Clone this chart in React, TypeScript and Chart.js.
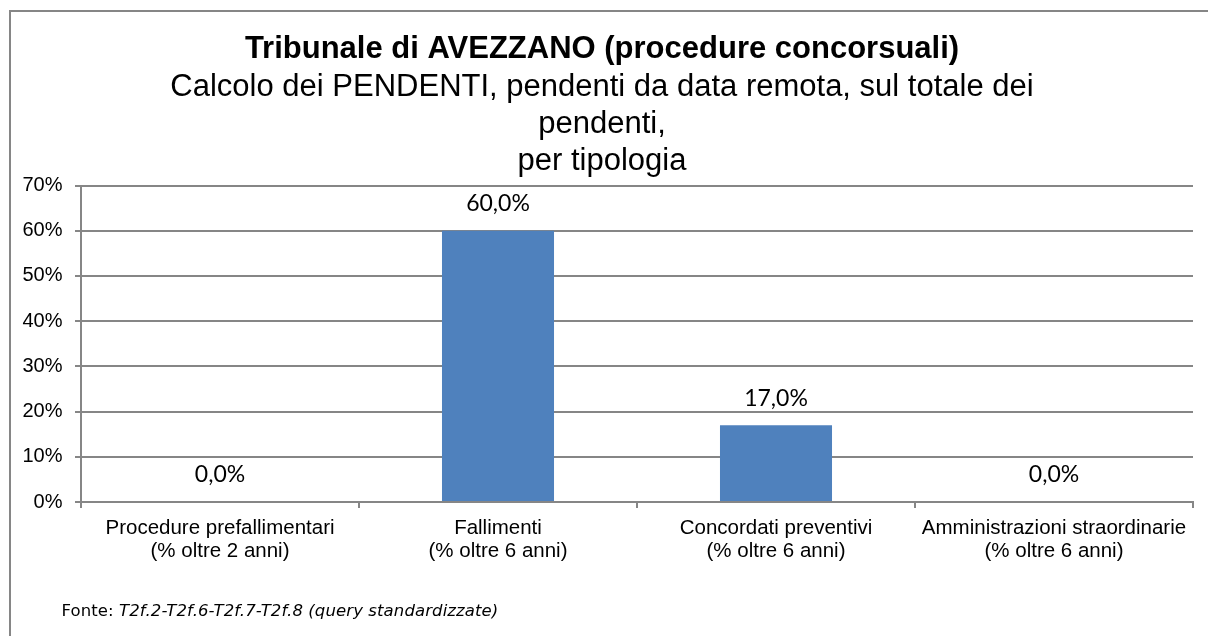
import React, { useEffect, useRef } from 'react';
import { Chart, registerables } from 'chart.js';

Chart.register(...registerables);

// ---- data ----
const categories: string[][] = [
  ['Procedure prefallimentari', '(% oltre 2 anni)'],
  ['Fallimenti', '(% oltre 6 anni)'],
  ['Concordati preventivi', '(% oltre 6 anni)'],
  ['Amministrazioni straordinarie', '(% oltre 6 anni)'],
];
const values: number[] = [0, 60, 17, 0];
const yMin = 0;
const yMax = 70;
const yStep = 10;
const titleText = 'Tribunale di AVEZZANO (procedure concorsuali)';
const subtitleLines: string[] = [
  'Calcolo dei PENDENTI, pendenti da data remota, sul totale dei',
  'pendenti,',
  'per tipologia',
];
const sourceLabel = 'Fonte: ';
const sourceText = 'T2f.2-T2f.6-T2f.7-T2f.8 (query standardizzate)';

// ---- styles ----
const BAR_COLOR = '#4F81BD';
const GRID_COLOR = '#868686';
const SANS = "'Liberation Sans', Arial, sans-serif";

const dataLabelPlugin = {
  id: 'dataLabels',
  afterDatasetsDraw(chart: any) {
    const ctx = chart.ctx;
    const meta = chart.getDatasetMeta(0);
    const data = chart.data.datasets[0].data as number[];
    ctx.save();
    ctx.font = "23px Lato, 'Open Sans', sans-serif";
    ctx.fillStyle = '#000';
    ctx.textAlign = 'center';
    ctx.textBaseline = 'middle';
    meta.data.forEach((el: any, i: number) => {
      const label = data[i].toFixed(1).replace('.', ',') + '%';
      ctx.fillText(label, el.x, el.y - 27);
    });
    ctx.restore();
  },
};

const sourcePlugin = {
  id: 'sourceNote',
  afterDraw(chart: any) {
    const ctx = chart.ctx;
    ctx.save();
    ctx.fillStyle = '#000';
    ctx.textAlign = 'left';
    ctx.textBaseline = 'alphabetic';
    try {
      (ctx as any).letterSpacing = '0.1px';
    } catch (e) {}
    const x = 50.5;
    const y = chart.height - 20;
    ctx.font = "16.5px 'DejaVu Sans', Verdana, sans-serif";
    ctx.fillText(sourceLabel, x, y);
    const w = ctx.measureText(sourceLabel).width;
    ctx.font = "italic 16.5px 'DejaVu Sans', Verdana, sans-serif";
    ctx.fillText(sourceText, x + w, y);
    ctx.restore();
  },
};

export default function App() {
  const canvasRef = useRef<HTMLCanvasElement | null>(null);

  useEffect(() => {
    if (!canvasRef.current) return;
    Chart.defaults.font.family = SANS;
    const chart = new Chart(canvasRef.current, {
      type: 'bar',
      data: {
        labels: categories,
        datasets: [
          {
            data: values,
            backgroundColor: BAR_COLOR,
            borderWidth: 0,
            barPercentage: 0.403,
            categoryPercentage: 1,
          },
        ],
      },
      options: {
        responsive: false,
        animation: false,
        layout: { padding: { top: 0, left: 0, right: 15, bottom: 0 } },
        plugins: {
          legend: { display: false },
          tooltip: { enabled: false },
          title: {
            display: true,
            text: titleText,
            color: '#000',
            font: { family: SANS, size: 31, weight: 'bold', lineHeight: 1.2 },
            padding: { top: 18.7, bottom: 0 },
          },
          subtitle: {
            display: true,
            text: subtitleLines,
            color: '#000',
            font: { family: SANS, size: 31, weight: 'normal', lineHeight: 1.2 },
            padding: { top: 0.5, bottom: 5.5 },
          },
        },
        scales: {
          x: {
            grid: {
              drawOnChartArea: false,
              drawTicks: true,
              tickLength: 6,
              color: GRID_COLOR,
              lineWidth: 2,
            },
            border: { color: GRID_COLOR, width: 2 },
            ticks: {
              color: '#000',
              padding: 9,
              maxRotation: 0,
              autoSkip: false,
              font: { family: SANS, size: 20.5, lineHeight: 23 / 20.5 },
            },
            afterFit(scale: any) {
              scale.height = 134;
            },
          },
          y: {
            min: yMin,
            max: yMax,
            grid: {
              color: GRID_COLOR,
              lineWidth: 2,
              tickLength: 6,
              drawTicks: true,
            },
            border: { color: GRID_COLOR, width: 2 },
            ticks: {
              stepSize: yStep,
              color: '#000',
              padding: 12.5,
              font: { family: SANS, size: 20 },
              callback: (v: any) => `${v}%`,
            },
            afterFit(scale: any) {
              scale.width = 70;
            },
          },
        },
      },
      plugins: [dataLabelPlugin, sourcePlugin],
    });
    return () => chart.destroy();
  }, []);

  return (
    <div
      style={{
        position: 'absolute',
        left: 9,
        top: 10,
        width: 1199,
        height: 626,
        boxSizing: 'border-box',
        borderTop: `2px solid ${GRID_COLOR}`,
        borderLeft: `2px solid ${GRID_COLOR}`,
        background: '#fff',
        overflow: 'hidden',
      }}
    >
      <canvas ref={canvasRef} width={1197} height={624} style={{ display: 'block' }} />
    </div>
  );
}
